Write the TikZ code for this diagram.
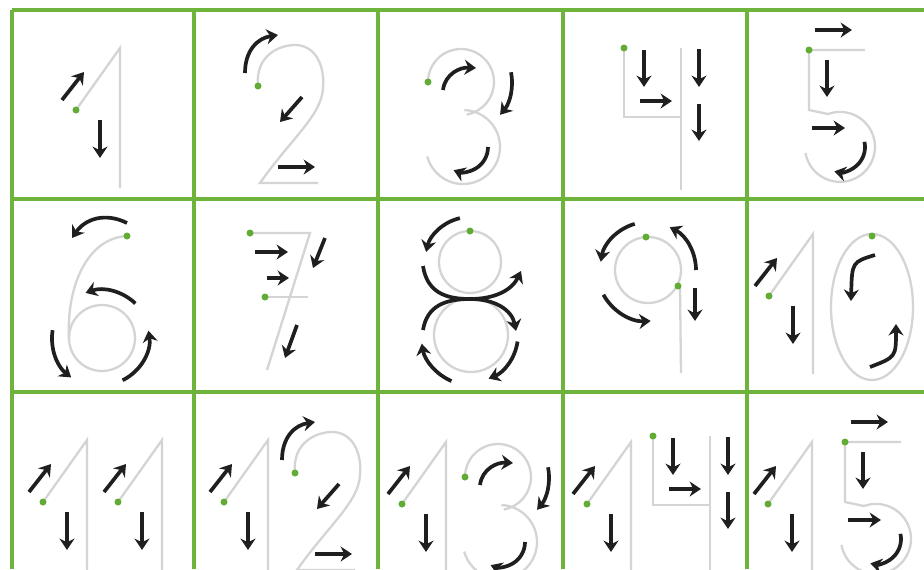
\documentclass[tikz,border=0pt]{standalone}
\usetikzlibrary{arrows.meta}
\definecolor{gridgreen}{RGB}{110,180,60}
\definecolor{dotgreen}{RGB}{96,172,52}
\definecolor{diggray}{RGB}{212,212,212}
\tikzset{
  gridline/.style={draw=gridgreen,line width=2.2pt},
  dig/.style={draw=diggray,line width=1.3pt},
  arr/.style={draw=black!88,line width=2.1pt,-{Stealth[length=6.5pt,width=8.5pt]}},
  gdot/.style={fill=dotgreen},
  digone/.pic={
    \draw[dig] (-44,62) -- (0,0) -- (0,140);
    \fill[gdot] (-44,62) circle (3.5);
    \draw[arr] (-58,52) -- (-36,24);
    \draw[arr] (-20,72) -- (-20,110);
  },
  digtwo/.pic={
    \draw[dig] (0,0) .. controls (-3,-31) and (22,-41) .. (37,-41)
      .. controls (57,-41) and (67,-21) .. (65,2)
      .. controls (64,29) and (32,54) .. (2,97) -- (60,97);
    \fill[gdot] (0,0) circle (3.5);
    \draw[arr] (-13,-13) .. controls (-13,-36) and (0,-48) .. (20,-51);
    \draw[arr] (44,11) -- (22,36);
    \draw[arr] (20,81) -- (57,81);
  },
  digthree/.pic={
    \draw[dig] (33,-2) ++(180:33) arc[start angle=180,end angle=440,radius=33];
    \draw[dig] (35,63) ++(272:37) arc[start angle=272,end angle=525,radius=37];
    \fill[gdot] (0,-2) circle (3.5);
    \draw[arr] (15,6) .. controls (17,-10) and (32,-17) .. (48,-16);
    \draw[arr] (33,-2) ++(349:51) arc[start angle=349,end angle=400,radius=51];
    \draw[arr] (35,63) ++(0:25) arc[start angle=0,end angle=112,radius=25];
  },
  digfour/.pic={
    \draw[dig] (0,0) -- (0,69) -- (57,69);
    \draw[dig] (57,0) -- (57,142);
    \fill[gdot] (0,0) circle (3.5);
    \draw[arr] (20,2) -- (20,39);
    \draw[arr] (16,53) -- (48,53);
    \draw[arr] (75,1) -- (75,39);
    \draw[arr] (75,56) -- (75,93);
  },
  digfive/.pic={
    \draw[dig] (56,0) -- (0,0) -- (0,60) -- (19,64)
      arc[start angle=250,end angle=530,radius=35];
    \fill[gdot] (0,0) circle (3.5);
    \draw[arr] (6,-20) -- (43,-20);
    \draw[arr] (18,10) -- (18,47);
    \draw[arr] (3,78) -- (36,78);
    \draw[arr] (31,97) ++(348:25) arc[start angle=348,end angle=463,radius=25];
  }
}
\begin{document}
\begin{tikzpicture}[x=0.02cm,y=-0.02cm]
\useasboundingbox (0,0) rectangle (924,569);
\clip (0,0) rectangle (924,569);
\fill[white] (0,0) rectangle (924,569);

% grid
\draw[gridline] (12,10) -- (924,10);
\draw[gridline] (12,199) -- (924,199);
\draw[gridline] (12,392) -- (924,392);
\foreach \gx in {12,194,378,563,747} {\draw[gridline] (\gx,10) -- (\gx,569);}

% row 1
\pic at (120,48) {digone};
\pic at (258,86) {digtwo};
\pic at (428,84) {digthree};
\pic at (624,48) {digfour};
\pic at (809,50) {digfive};

% cell 6
\draw[dig] (127,236) .. controls (88,238) and (66,285) .. (69,340);
\draw[dig] (102,338) circle (33);
\fill[gdot] (127,236) circle (3.5);
\draw[arr] (127,223) .. controls (105,212) and (85,219) .. (72,238);
\draw[arr] (102,338) ++(314:48) arc[start angle=314,end angle=250,radius=48];
\draw[arr] (102,338) ++(189:50) arc[start angle=189,end angle=128,radius=50];
\draw[arr] (102,338) ++(64:47) arc[start angle=64,end angle=-9,radius=47];

% cell 7
\draw[dig] (250,233) -- (310,233) -- (267,370);
\draw[dig] (265,297) -- (308,297);
\fill[gdot] (250,233) circle (3.5);
\fill[gdot] (265,297) circle (3.5);
\draw[arr] (255,252) -- (288,252);
\draw[arr] (267,278) -- (289,278);
\draw[arr] (325,238) -- (313,268);
\draw[arr] (297,325) -- (285,358);

% cell 8
\draw[dig] (470,262) circle (31);
\draw[dig] (471,335) circle (37);
\fill[gdot] (470,231) circle (3.5);
\draw[arr] (470,262) ++(257:45) arc[start angle=257,end angle=193,radius=45];
\draw[arr] (423,266) .. controls (427,292) and (445,299) .. (470,299)
  .. controls (495,299) and (512,290) .. (521,271);
\draw[arr] (423,330) .. controls (427,306) and (445,299) .. (470,299)
  .. controls (495,299) and (512,310) .. (516,331);
\draw[arr] (471,335) ++(8:47) arc[start angle=8,end angle=68,radius=47];
\draw[arr] (471,335) ++(113:50) arc[start angle=113,end angle=170,radius=50];

% cell 9
\draw[dig] (648,270) circle (33);
\draw[dig] (680,286) -- (681,373);
\fill[gdot] (646,237) circle (3.5);
\fill[gdot] (678,286) circle (3.5);
\draw[arr] (648,270) ++(254:48) arc[start angle=254,end angle=190,radius=48];
\draw[arr] (648,270) ++(151:51) arc[start angle=151,end angle=87,radius=51];
\draw[arr] (648,270) ++(360:48) arc[start angle=360,end angle=297,radius=48];
\draw[arr] (695,288) -- (695,321);

% cell 10
\pic at (813,234) {digone};
\draw[dig] (872,307) ellipse [x radius=41,y radius=73];
\fill[gdot] (872,236) circle (3.5);
\draw[arr] (875,255) .. controls (852,262) .. (851,301);
\draw[arr] (870,367) .. controls (896,357) .. (896,324);

% row 3
\pic at (87,440) {digone};
\pic at (162,440) {digone};
\pic at (268,440) {digone};
\pic at (295,473) {digtwo};
\pic at (446,442) {digone};
\pic at (465,479) {digthree};
\pic at (631,442) {digone};
\pic at (653,436) {digfour};
\pic at (812,442) {digone};
\pic at (845,442) {digfive};
\end{tikzpicture}
\end{document}
